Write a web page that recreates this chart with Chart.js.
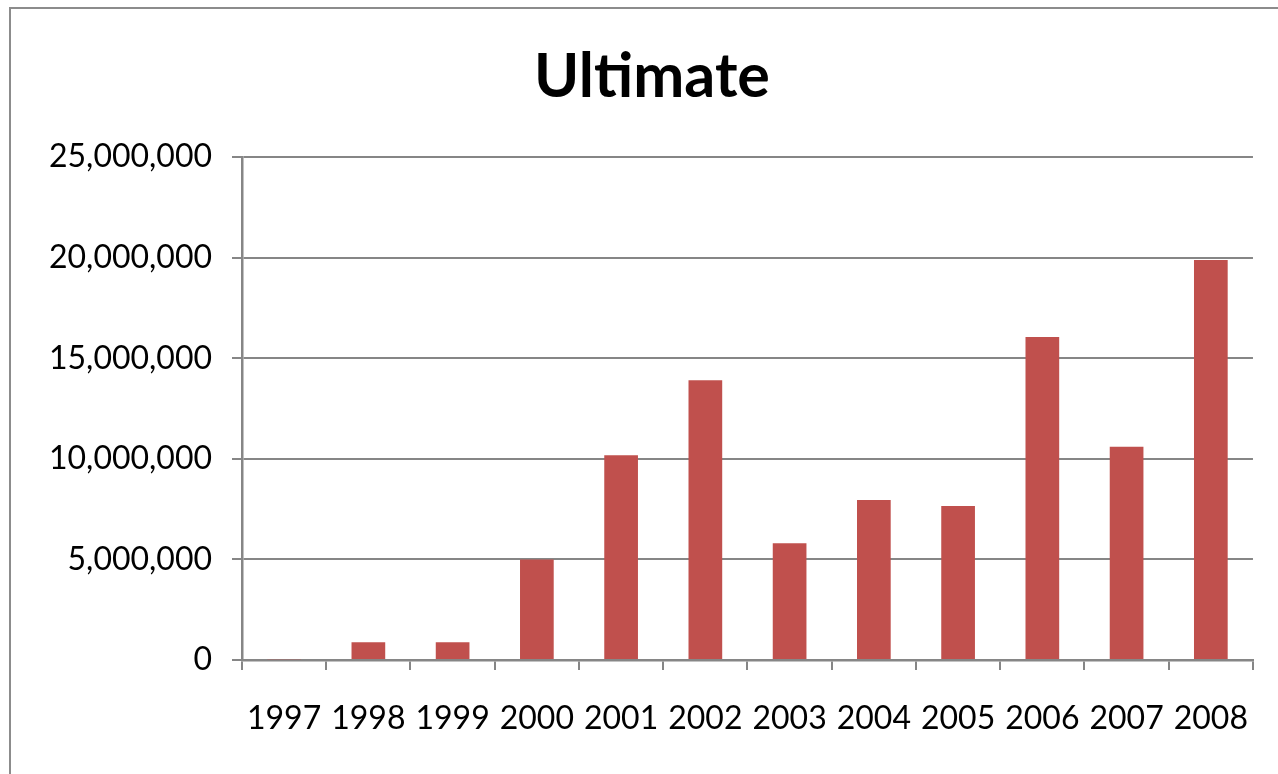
<!DOCTYPE html>
<html>
<head>
<meta charset="utf-8">
<script src="https://cdn.jsdelivr.net/npm/chart.js@4.4.1/dist/chart.umd.min.js"></script>
<style>
  html, body { margin: 0; padding: 0; background: #ffffff; }
  #wrap { width: 1278px; height: 774px; position: relative; }
</style>
</head>
<body>
<div id="wrap"><canvas id="chart" width="1278" height="774"></canvas></div>
<script>
// Yearly totals for the "Ultimate" series
const chartTitle = 'Ultimate';
const years = ['1997', '1998', '1999', '2000', '2001', '2002', '2003', '2004', '2005', '2006', '2007', '2008'];
const ultimateValues = [40000, 880000, 880000, 5000000, 10180000, 13900000, 5800000, 7950000, 7650000, 16050000, 10600000, 19880000];
const yTicks = [0, 5000000, 10000000, 15000000, 20000000, 25000000];

const AXIS_GREY = '#868686';
const BAR_RED = '#C0504D';
const FONT = 'Lato, "Open Sans", sans-serif';

// Outer frame around the chart object, plus a title centred on that frame
const framePlugin = {
  id: 'frame',
  beforeDraw(chart) {
    const ctx = chart.ctx;
    ctx.save();
    ctx.fillStyle = '#ffffff';
    ctx.fillRect(0, 0, chart.width, chart.height);
    ctx.strokeStyle = '#8c8c8c';
    ctx.lineWidth = 2;
    ctx.strokeRect(10, 8, chart.width + 40, chart.height + 40);
    ctx.restore();
  },
  afterDraw(chart) {
    const ctx = chart.ctx;
    ctx.save();
    ctx.fillStyle = '#000000';
    ctx.font = 'bold 61px ' + FONT;
    ctx.textAlign = 'center';
    ctx.textBaseline = 'alphabetic';
    ctx.fillText(chartTitle, 652, 97);
    ctx.restore();
  }
};

new Chart(document.getElementById('chart'), {
  type: 'bar',
  data: {
    labels: years,
    datasets: [{
      label: chartTitle,
      data: ultimateValues,
      backgroundColor: BAR_RED,
      borderWidth: 0,
      barPercentage: 0.4,
      categoryPercentage: 1.0
    }]
  },
  options: {
    responsive: false,
    animation: false,
    layout: { padding: { left: 0, right: 25, top: 157, bottom: 0 } },
    plugins: {
      legend: { display: false },
      tooltip: { enabled: false },
      title: { display: false }
    },
    scales: {
      x: {
        offset: true,
        grid: {
          display: true,
          offset: true,
          drawOnChartArea: false,
          drawTicks: true,
          tickLength: 10,
          color: AXIS_GREY,
          lineWidth: 2
        },
        border: { display: true, color: AXIS_GREY, width: 2.5 },
        ticks: {
          color: '#000000',
          font: { family: FONT, size: 32 },
          padding: 29,
          maxRotation: 0,
          autoSkip: false
        },
        afterFit(scale) { scale.height = 114; }
      },
      y: {
        min: 0,
        max: 25000000,
        afterBuildTicks(scale) { scale.ticks = yTicks.map(v => ({ value: v })); },
        grid: {
          display: true,
          drawOnChartArea: true,
          drawTicks: true,
          tickLength: 10,
          color: AXIS_GREY,
          lineWidth: 2
        },
        border: { display: true, color: AXIS_GREY, width: 2.5 },
        ticks: {
          color: '#000000',
          font: { family: FONT, size: 32 },
          padding: 20,
          callback: (v) => Number(v).toLocaleString('en-US')
        },
        afterFit(scale) { scale.width = 242; }
      }
    }
  },
  plugins: [framePlugin]
});
</script>
</body>
</html>
